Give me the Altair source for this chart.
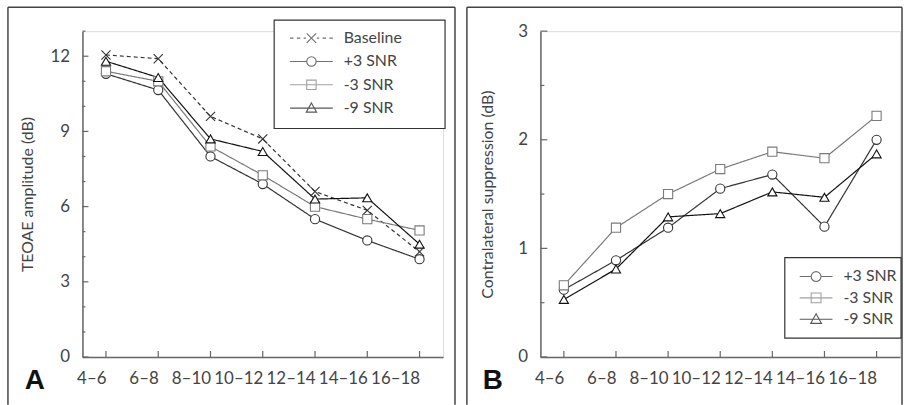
import altair as alt
import pandas as pd

# ---------------- data ----------------
categories = ["4–6", "6–8", "8–10", "10–12", "12–14", "14–16", "16–18"]

series_A = ["Baseline", "+3 SNR", "-3 SNR", "-9 SNR"]
baseline_A = [12.05, 11.9, 9.6, 8.7, 6.6, 5.85, 4.2]
snr_p3_A = [11.3, 10.65, 8.0, 6.9, 5.5, 4.65, 3.9]
snr_m3_A = [11.4, 11.0, 8.4, 7.25, 6.0, 5.5, 5.05]
snr_m9_A = [11.8, 11.15, 8.7, 8.2, 6.3, 6.35, 4.5]

series_B = ["+3 SNR", "-3 SNR", "-9 SNR"]
snr_p3_B = [0.62, 0.89, 1.19, 1.55, 1.68, 1.2, 2.0]
snr_m3_B = [0.66, 1.19, 1.5, 1.73, 1.89, 1.83, 2.22]
snr_m9_B = [0.53, 0.81, 1.29, 1.32, 1.52, 1.47, 1.87]

ylabels_A = [0, 3, 6, 9, 12]
yminor_A = [1, 2, 4, 5, 7, 8, 10, 11, 13]
ylabels_B = [0, 1, 2, 3]
yminor_B = [0.5, 1.5, 2.5]

# ---------------- styles ----------------
FONT = "Lato"
TXT = "#444444"
AX = "#666666"
color_map = {"Baseline": "#333333", "+3 SNR": "#333333", "-3 SNR": "#7a7a7a", "-9 SNR": "#111111"}
dash_map = {"Baseline": [4, 3], "+3 SNR": [1, 0], "-3 SNR": [1, 0], "-9 SNR": [1, 0]}
X_PATH = "M-1,-1L1,1M-1,1L1,-1"
shape_map = {"Baseline": X_PATH, "+3 SNR": "circle", "-3 SNR": "square", "-9 SNR": "triangle-up"}


def legend_paths(m):
    """legend symbol paths: line segment with marker of half-size m (unit box)."""
    base = ("M-1,0L-0.84,0M-0.68,0L-0.52,0M-0.36,0L-0.26,0"
            "M0.26,0L0.36,0M0.52,0L0.68,0M0.84,0L1,0"
            f"M{-m},{-m}L{m},{m}M{-m},{m}L{m},{-m}")
    circ = (f"M-1,0L{-m},0M{m},0L1,0"
            f"M{m},0A{m},{m} 0 1 1 {-m},0A{m},{m} 0 1 1 {m},0")
    sq = f"M-1,0L1,0M{-m},{-m}L{m},{-m}L{m},{m}L{-m},{m}Z"
    tri = f"M-1,0L1,0M0,{-m * 1.1}L{m * 1.1},{m * 0.85}L{-m * 1.1},{m * 0.85}Z"
    return {"Baseline": base, "+3 SNR": circ, "-3 SNR": sq, "-9 SNR": tri}


def make_df(series, values):
    rows = []
    for s, vals in zip(series, values):
        for c, v in zip(categories, vals):
            rows.append({"cat": c, "value": v, "series": s})
    return pd.DataFrame(rows)


one = pd.DataFrame({"k": [0]})


def panel(df, series, ymax, ylabels, yminor, ytitle, letter, W, H,
          box, leg_xy, sym_size, marker_half, clip_h, row_pad, label_size,
          border, major_len, minor_len, title_pad):
    xs = alt.Scale(domain=categories, type="point", padding=0.45)
    ys = alt.Scale(domain=[0, ymax], nice=False, zero=True)
    x_enc = alt.X("cat:N", scale=xs, sort=categories,
                  axis=alt.Axis(title=None, ticks=False, labelAngle=0, labelPadding=22,
                                labelFont=FONT, labelFontSize=17, labelColor=TXT,
                                domainColor=AX, domainWidth=1.5, grid=False))
    y_enc = alt.Y("value:Q", scale=ys,
                  axis=alt.Axis(title=ytitle, values=ylabels, format="d", ticks=False,
                                labelPadding=13,
                                labelFont=FONT, labelFontSize=17, labelColor=TXT,
                                titleFont=FONT, titleFontSize=16, titleColor=TXT,
                                titleFontWeight="normal", titlePadding=title_pad,
                                domainColor=AX, domainWidth=1.5, grid=False))
    stroke_sc = alt.Scale(domain=series, range=[color_map[s] for s in series])
    dash_sc = alt.Scale(domain=series, range=[dash_map[s] for s in series])
    shape_sc = alt.Scale(domain=series, range=[shape_map[s] for s in series])
    lp = legend_paths(marker_half)
    leg_shape_sc = alt.Scale(domain=series, range=[lp[s] for s in series])

    bl, bt, br, bb = border
    borders = alt.layer(
        alt.Chart(one).mark_rule(color="#444", strokeWidth=1.5).encode(
            x=alt.value(bl), x2=alt.value(br), y=alt.value(bt)),
        alt.Chart(one).mark_rule(color="#444", strokeWidth=1.5).encode(
            x=alt.value(bl), y=alt.value(bt), y2=alt.value(bb)),
        alt.Chart(one).mark_rule(color="#444", strokeWidth=1.5).encode(
            x=alt.value(br), y=alt.value(bt), y2=alt.value(bb)),
    )
    bx0, by0, bx1, by1 = box
    legbox = alt.Chart(one).mark_rect(fill="white", stroke="#333", strokeWidth=1.2).encode(
        x=alt.value(bx0), x2=alt.value(bx1), y=alt.value(by0), y2=alt.value(by1))

    base = alt.Chart(df)
    lines = base.mark_line(strokeWidth=1.2).encode(
        x=x_enc, y=y_enc,
        stroke=alt.Stroke("series:N", scale=stroke_sc, legend=None),
        strokeDash=alt.StrokeDash("series:N", scale=dash_sc, legend=None),
        detail="series:N")
    points = base.mark_point(filled=False, fill="white", size=85, strokeWidth=1.1, opacity=1).encode(
        x=alt.X("cat:N", scale=xs, sort=categories), y=alt.Y("value:Q", scale=ys),
        shape=alt.Shape("series:N", scale=shape_sc, legend=None),
        stroke=alt.Stroke("series:N", scale=stroke_sc, legend=None))
    leg = base.mark_point(filled=False, size=0, strokeWidth=1.1).encode(
        x=alt.X("cat:N", scale=xs, sort=categories), y=alt.Y("value:Q", scale=ys),
        shape=alt.Shape("series:N", scale=leg_shape_sc,
                        legend=alt.Legend(orient="none", legendX=leg_xy[0], legendY=leg_xy[1],
                                          title=None, symbolSize=sym_size, clipHeight=clip_h,
                                          rowPadding=row_pad, padding=0, labelOffset=10,
                                          labelFont=FONT, labelFontSize=label_size,
                                          labelColor=TXT, symbolStrokeWidth=1.1,
                                          symbolFillColor="transparent")),
        stroke=alt.Stroke("series:N", scale=alt.Scale(domain=series,
                                                      range=[color_map[s] for s in series])))

    ymaj = pd.DataFrame({"v": ylabels})
    ymin = pd.DataFrame({"v": yminor})
    xt = pd.DataFrame({"cat": categories})
    tick_major = alt.Chart(ymaj).mark_rule(color=AX, strokeWidth=1.2).encode(
        y=alt.Y("v:Q", scale=ys), x=alt.value(0), x2=alt.value(major_len))
    tick_minor = alt.Chart(ymin).mark_rule(color=AX, strokeWidth=1.2).encode(
        y=alt.Y("v:Q", scale=ys), x=alt.value(0), x2=alt.value(minor_len))
    tick_x = alt.Chart(xt).mark_rule(color=AX, strokeWidth=1.2).encode(
        x=alt.X("cat:N", scale=xs, sort=categories), y=alt.value(H), y2=alt.value(H - 6))
    lett = alt.Chart(one).mark_text(text=letter, font="Liberation Sans", fontSize=28,
                                    fontWeight="bold", color="#111", align="left",
                                    baseline="middle").encode(
        x=alt.value(-58), y=alt.value(H + 24))

    return alt.layer(borders, legbox, tick_major, tick_minor, tick_x, lines, points, leg, lett
                     ).resolve_scale(shape="independent", stroke="independent"
                     ).properties(width=W, height=H)


dfA = make_df(series_A, [baseline_A, snr_p3_A, snr_m3_A, snr_m9_A])
dfB = make_df(series_B, [snr_p3_B, snr_m3_B, snr_m9_B])

WA, HA = 363, 328
WB, HB = 362, 328

chartA = panel(dfA, series_A, 13, ylabels_A, yminor_A, "TEOAE amplitude (dB)", "A", WA, HA,
               box=(193, -11, 365, 98), leg_xy=(208, -1), sym_size=43 * 43, marker_half=0.22,
               clip_h=16, row_pad=7.5, label_size=16,
               border=(-75, -24, WA + 12, HA + 48), major_len=6, minor_len=3, title_pad=15)
chartB = panel(dfB, series_B, 3, ylabels_B, yminor_B, "Contralateral suppression (dB)", "B", WB, HB,
               box=(246, 228, 363, 309), leg_xy=(260, 239), sym_size=33 * 33, marker_half=0.3,
               clip_h=16, row_pad=5.5, label_size=16,
               border=(-74, -24, WB + 2, HB + 48), major_len=7, minor_len=4, title_pad=22)

chart = alt.hconcat(chartA, chartB, spacing=8).properties(
    padding={"left": 6, "top": 4, "right": 0, "bottom": 0}
).configure_view(stroke=None).configure(background="white")

chart.save("out.html", embed_options={"renderer": "svg", "actions": False})
